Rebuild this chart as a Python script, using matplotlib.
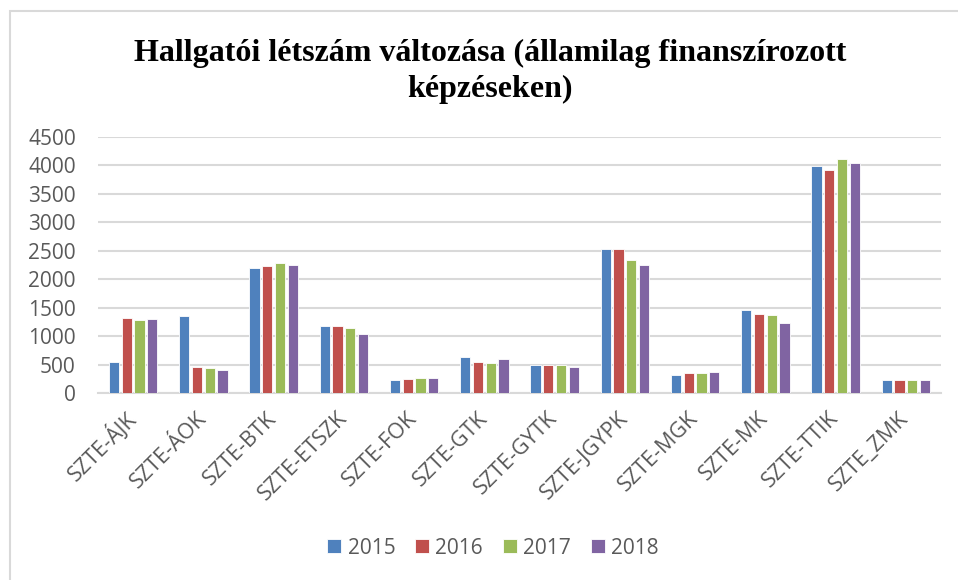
import numpy as np
import matplotlib
matplotlib.use("Agg")
import matplotlib.pyplot as plt
from matplotlib.patches import Rectangle

karok = ["SZTE-ÁJK", "SZTE-ÁOK", "SZTE-BTK", "SZTE-ETSZK", "SZTE-FOK", "SZTE-GTK",
         "SZTE-GYTK", "SZTE-JGYPK", "SZTE-MGK", "SZTE-MK", "SZTE-TTIK", "SZTE_ZMK"]
evek = ["2015", "2016", "2017", "2018"]

v2015 = [545, 1360, 2190, 1185, 230, 630, 485, 2530, 320, 1455, 3985, 225]
v2016 = [1315, 450, 2237, 1178, 250, 550, 495, 2535, 360, 1390, 3928, 230]
v2017 = [1290, 432, 2283, 1143, 260, 532, 495, 2340, 350, 1378, 4120, 220]
v2018 = [1295, 403, 2242, 1030, 260, 590, 460, 2242, 365, 1236, 4050, 230]

szinek = ["#4F81BD", "#C0504D", "#9BBB59", "#8064A2"]
plt.rcParams['font.family'] = ['Open Sans', 'DejaVu Sans']

fig = plt.figure(figsize=(9.58, 5.80), dpi=100)
ax = fig.add_axes([98/958, 1-393/580, (941-98)/958, (393-137)/580])

# keret a diagram körül
fig.patches.append(Rectangle((10/958, -0.1), 1.2, 1.1 - 11/580, transform=fig.transFigure,
                             fill=False, edgecolor="#D9D9D9", lw=1.5))

x = np.arange(len(karok))
lepes = 0.181
szel = 0.145
for i, (ertek, ev) in enumerate(zip([v2015, v2016, v2017, v2018], evek)):
    ax.bar(x + (i - 1.5)*lepes, ertek, szel, color=szinek[i], label=ev,
           edgecolor="white", linewidth=0.6, zorder=3)

ax.set_xlim(-0.5, len(karok) - 0.5)
ax.set_ylim(0, 4500)
ax.set_yticks(np.arange(0, 4501, 500))
ax.yaxis.grid(True, color="#D9D9D9", lw=1.5, zorder=0)
for s in ["top", "right", "left"]:
    ax.spines[s].set_visible(False)
ax.spines["bottom"].set_color("#D9D9D9")
ax.spines["bottom"].set_linewidth(1.5)

ax.set_xticks(x)
ax.set_xticklabels(karok, rotation=45, ha="right", va="center", rotation_mode="anchor")
ax.tick_params(axis="x", length=0, pad=16, labelsize=15.5, labelcolor="#595959")
ax.tick_params(axis="y", length=0, pad=16, labelsize=15, labelcolor="#595959")

fig.text(490/958, 1-61/580, "Hallgatói létszám változása (államilag finanszírozott",
         ha="center", va="baseline", family="Liberation Serif", weight="bold", fontsize=23)
fig.text(490/958, 1-97/580, "képzéseken)",
         ha="center", va="baseline", family="Liberation Serif", weight="bold", fontsize=23)

leg = fig.legend(loc="center", bbox_to_anchor=(493/958, 1-548/580), ncol=4, frameon=False,
                 fontsize=15, handlelength=0.68, handleheight=0.68, handletextpad=0.3,
                 columnspacing=0.95, labelcolor="#595959")

fig.savefig("out.png", dpi=100)
